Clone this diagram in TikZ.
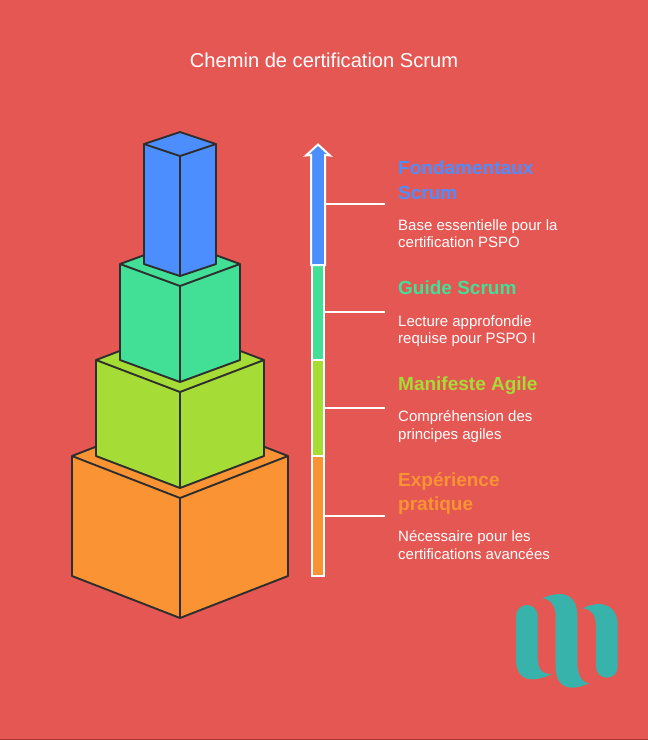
\documentclass[tikz,border=0pt]{standalone}
\usepackage{fontspec}
\setmainfont{Liberation Sans}
\definecolor{bgred}{HTML}{E55753}
\definecolor{edgegray}{HTML}{2E2E2E}
\definecolor{cubeblue}{HTML}{4D8EFF}
\definecolor{cubegreen}{HTML}{42E097}
\definecolor{cubelime}{HTML}{A6DC36}
\definecolor{cubeorange}{HTML}{F99334}
\definecolor{logoteal}{HTML}{38B3AB}
\begin{document}
\begin{tikzpicture}[x=1pt,y=-1pt,
    cube/.style={draw=edgegray,line width=1.9pt,line join=round},
    segment/.style={draw=white,line width=2pt,minimum width=12pt,inner sep=0pt},
    leader/.style={draw=white,line width=2pt},
    stagename/.style={anchor=base west,inner sep=0pt,font=\fontsize{19}{24.3}\selectfont\bfseries},
    stagetext/.style={anchor=base west,inner sep=0pt,text=white,font=\fontsize{15}{17.7}\selectfont}]

    \useasboundingbox (0,0) rectangle (648,740);
    \fill[bgred] (0,0) rectangle (648,740);
    \fill[bgred!70!black] (0,739) rectangle (648,740);

    \node[text=white,font=\fontsize{20.1}{24}\selectfont] (title) at (324,60) {Chemin de certification Scrum};

    % cubes, bottom to top
    \foreach \col/\xl/\xr/\yb/\ys/\yf/\yd/\ye in {cubeorange/72/288/414/456/498/576/618,
        cubelime/96/264/328/360/392/456/488,
        cubegreen/120/240/242/264/286/360/382,
        cubeblue/144/216/132/144/156/264/276} {
      \draw[cube,fill=\col] (\xl,\ys) -- (180,\yb) -- (\xr,\ys) -- (\xr,\yd) -- (180,\ye) -- (\xl,\yd) -- cycle;
      \draw[cube] (\xl,\ys) -- (180,\yf) -- (\xr,\ys);
      \draw[cube] (180,\yf) -- (180,\ye);
    }

    % scale bar
    \node[segment,fill=cubeorange,minimum height=120pt] (segorange) at (318,516) {};
    \node[segment,fill=cubelime,minimum height=96pt] (seglime) at (318,408) {};
    \node[segment,fill=cubegreen,minimum height=96pt] (seggreen) at (318,312) {};
    \node[segment,fill=cubeblue,minimum height=108pt] (segblue) at (318,210) {};
    \fill[cubeblue,draw=white,line width=2pt,miter limit=4]
      (segblue.north west) -- (306,155.5) -- (318,144.5) -- (330,155.5) -- (segblue.north east) -- (segblue.south east) -- (segblue.south west) -- cycle;

    \coordinate (endblue) at (385,203.5);
    \coordinate (endgreen) at (385,312);
    \coordinate (endlime) at (385,408);
    \coordinate (endorange) at (385,516);
    \draw[leader] (segblue.east |- endblue) -- (endblue);
    \draw[leader] (seggreen.east) -- (endgreen);
    \draw[leader] (seglime.east) -- (endlime);
    \draw[leader] (segorange.east) -- (endorange);

    % labels
    \node[stagename,text=cubeblue] (nameblue) at (398,174.3) {Fondamentaux};
    \node[stagename,text=cubeblue] (nameblueb) at (398,199) {Scrum};
    \node[stagetext] (textblue) at (398,230) {Base essentielle pour la};
    \node[stagetext] (textblueb) at (398,247.7) {certification PSPO};
    \node[stagename,text=cubegreen] (namegreen) at (398,294.3) {Guide Scrum};
    \node[stagetext] (textgreen) at (398,326) {Lecture approfondie};
    \node[stagetext] (textgreenb) at (398,343.7) {requise pour PSPO I};
    \node[stagename,text=cubelime] (namelime) at (398,390.5) {Manifeste Agile};
    \node[stagetext] (textlime) at (398,421.7) {Compréhension des};
    \node[stagetext] (textlimeb) at (398,439.4) {principes agiles};
    \node[stagename,text=cubeorange] (nameorange) at (398,486.5) {Expérience};
    \node[stagename,text=cubeorange] (nameorangeb) at (398,510.7) {pratique};
    \node[stagetext] (textorange) at (398,541.7) {Nécessaire pour les};
    \node[stagetext] (textorangeb) at (398,559.4) {certifications avancées};

    % logo
    \fill[logoteal] (516,616) .. controls (516,610) and (521,605) .. (526.85,605)
      .. controls (533,605) and (537.7,610) .. (537.7,616)
      -- (537.7,658) .. controls (537.7,668) and (541,674) .. (551.7,674.3)
      .. controls (545,677.5) and (538,679.3) .. (532,679.3)
      .. controls (521,679.3) and (516,671) .. (516,660) -- cycle;
    \fill[logoteal] (542.3,598.3) .. controls (548,595.5) and (555,594) .. (560,594)
      .. controls (571,594) and (577.3,603) .. (577.3,614) -- (577.3,662)
      .. controls (577.3,674) and (581,682.5) .. (589.3,683.3)
      .. controls (583,686) and (577,687.7) .. (572,687.7)
      .. controls (561,687.7) and (555.7,679) .. (555.7,668) -- (555.7,617)
      .. controls (555.7,606) and (551,599) .. (542.3,598.3) -- cycle;
    \fill[logoteal] (582.7,608.3) .. controls (588,605.5) and (594,604) .. (599,604)
      .. controls (611,604) and (617.7,613) .. (617.7,625) -- (617.7,667)
      .. controls (617.7,673) and (613,677.7) .. (606.85,677.7)
      .. controls (601,677.7) and (596,673) .. (596,667)
      -- (596,626) .. controls (596,615) and (591,609) .. (582.7,608.3) -- cycle;

  \end{tikzpicture}
\end{document}
